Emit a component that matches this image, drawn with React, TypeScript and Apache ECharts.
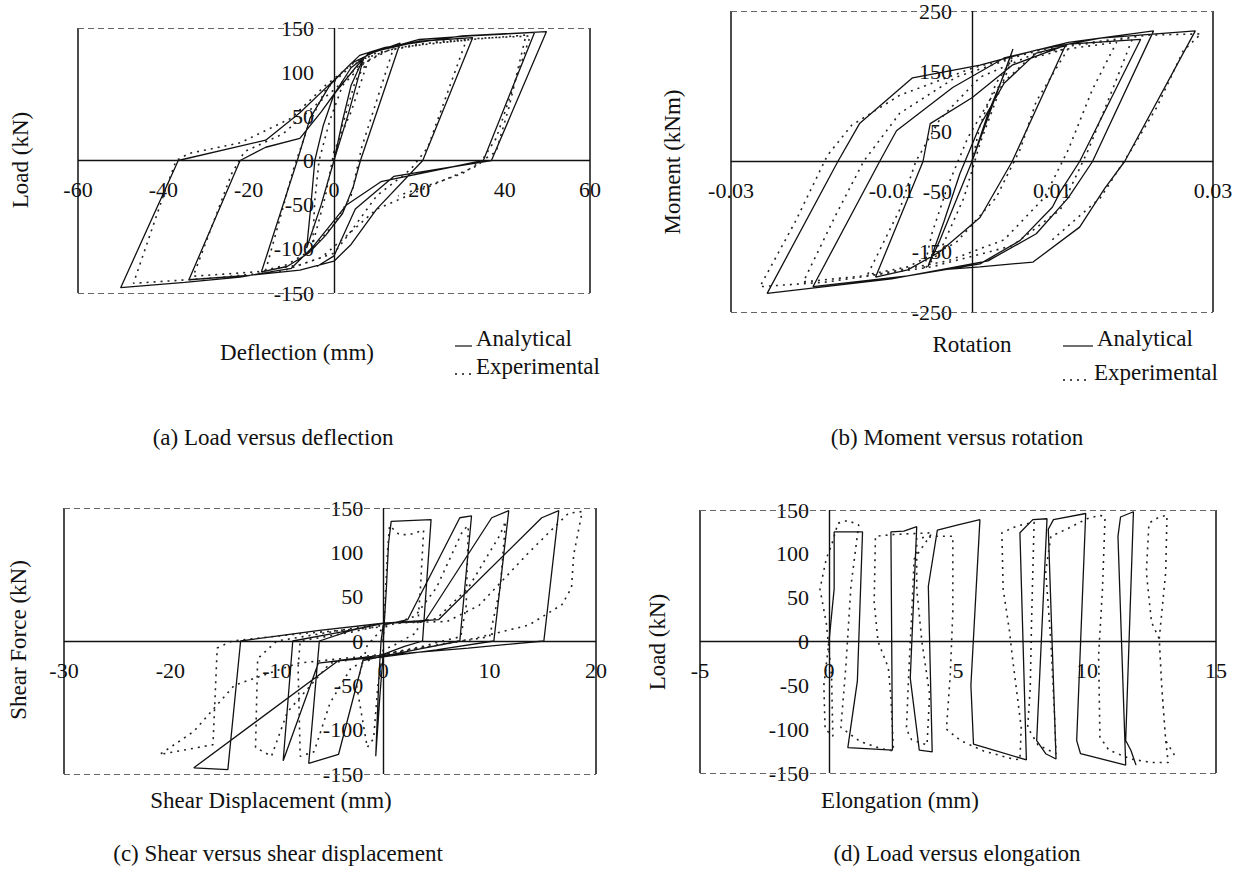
import React, { useEffect, useRef } from "react";
import * as echarts from "echarts";

const FONT = "'Liberation Serif', 'Times New Roman', Times, serif";

// ---------- Panel (a) Load versus deflection ----------
const A_X_RANGE = [-60, 60];
const A_X_STEP = 20;
const A_Y_RANGE = [-150, 150];
const A_Y_STEP = 50;
const A_ANALYTICAL = [
  [0, 0], [2, 45], [4, 85], [7, 117],
  [3.5, 55], [0, 0], [-3, -50], [-6.4, -99],
  [-5.4, -50], [-4.5, 0], [-2.5, 40], [0, 75], [4, 105], [8, 120], [15.5, 133],
  [6.2, 0], [4.5, -30], [2, -60], [-2, -85], [-6, -105], [-11, -120], [-17, -126],
  [-8.6, 0], [-5.6, 48], [-1, 85], [4, 110], [10, 124], [20, 135], [32.5, 139],
  [20.8, 0], [10, -55], [4, -95], [0, -114], [-8, -124], [-20, -130], [-34, -135],
  [-22, 0], [-16, 15], [-8, 25], [-3, 55], [0, 75], [5, 105], [8, 121], [20, 137], [32, 141], [47, 145],
  [35, 0], [11, -24], [3, -50], [0, -68], [-5, -98], [-10, -122], [-22, -132], [-35, -138], [-50, -144],
  [-36.5, 0], [-16, 23], [-8, 54], [0, 91], [6, 119], [12, 128], [30, 141], [49.8, 146],
  [36.9, 0], [14, -18], [5, -55], [0, -108], [-4, -120],
];
const A_EXPERIMENTAL = [
  [0, 0], [2, 40], [5, 90], [8, 113],
  [4, 55], [0, 10], [-2, -40], [-5, -95],
  [-4.5, -45], [-3.5, 0], [-1, 45], [2, 85], [7, 110], [14, 128],
  [6.5, 15], [4, -40], [0, -72], [-5, -100], [-11, -118], [-16, -124],
  [-9.5, -10], [-6, 40], [-2, 80], [4, 107], [10, 122], [20, 132], [31, 136],
  [22, 15], [18, -10], [10, -40], [4, -80], [0, -105], [-8, -118], [-18, -126], [-33, -131],
  [-24, -15], [-21, 10], [-12, 30], [-5, 60], [0, 80], [6, 108], [12, 124], [25, 135], [33, 138], [46, 141],
  [38, 25], [34, -5], [22, -30], [10, -55], [3, -85], [-3, -110], [-12, -125], [-28, -133], [-47, -139],
  [-40, -40], [-37, 0], [-34, 8], [-22, 20], [-10, 48], [-2, 85], [5, 112], [15, 128], [32, 137], [45, 142],
  [41, 60], [38, 10], [30, -15], [15, -40],
];

// ---------- Panel (b) Moment versus rotation ----------
const B_X_RANGE = [-0.03, 0.03];
const B_X_STEP = 0.02;
const B_Y_RANGE = [-250, 250];
const B_Y_STEP = 100;
const B_ANALYTICAL = [
  [0, 0], [0.002, 80], [0.004, 145], [0.0051, 187],
  [0.003, 110], [0, 0], [-0.004, -131], [-0.0055, -175],
  [-0.0035, -100], [-0.0015, -20], [0.001, 60], [0.004, 130], [0.008, 180], [0.0116, 192],
  [0.005, 0], [0.001, -93], [-0.004, -150], [-0.008, -180], [-0.012, -192],
  [-0.0061, 0], [-0.0052, 63], [0, 106], [0.005, 160], [0.012, 195], [0.021, 203],
  [0.0134, 0], [0.011, -50], [0.01, -76], [0.006, -131], [0.001, -170], [-0.008, -190], [-0.0198, -208],
  [-0.0115, 0], [-0.0094, 51], [-0.0024, 123], [0.004, 172], [0.012, 198], [0.0226, 217],
  [0.015, 0], [0.012, -60], [0.008, -120], [0.002, -165], [-0.01, -195], [-0.0255, -219],
  [-0.0167, 0], [-0.014, 63], [-0.0074, 139], [0.001, 160], [0.008, 185], [0.016, 205], [0.0278, 217],
  [0.019, 0], [0.0165, -45], [0.0134, -109], [0.0076, -167], [0.001, -175], [-0.004, -180],
];
const B_EXPERIMENTAL = [
  [0, 0], [0.001, 60], [0.003, 130], [0.005, 170],
  [0.0035, 120], [0.001, 30], [-0.001, -60], [-0.004, -150], [-0.006, -180],
  [-0.005, -120], [-0.003, -40], [-0.0005, 40], [0.003, 120], [0.007, 170], [0.012, 188],
  [0.008, 100], [0.006, 20], [0.003, -60], [-0.002, -135], [-0.008, -175], [-0.013, -188],
  [-0.009, -80], [-0.007, 0], [-0.004, 70], [0.001, 140], [0.008, 180], [0.018, 198],
  [0.015, 120], [0.012, 20], [0.009, -60], [0.004, -130], [-0.003, -165], [-0.012, -188], [-0.021, -200],
  [-0.017, -90], [-0.0135, 0], [-0.009, 80], [-0.002, 140], [0.008, 185], [0.02, 205],
  [0.0175, 120], [0.0145, 20], [0.011, -80], [0.005, -140], [-0.005, -175], [-0.018, -200], [-0.0264, -208],
  [-0.022, -100], [-0.018, 10], [-0.015, 60], [-0.009, 110], [0, 155], [0.01, 190], [0.022, 210], [0.0285, 212],
  [0.0263, 184], [0.023, 90], [0.02, 23], [0.016, -60], [0.01, -130],
];

// ---------- Panel (c) Shear versus shear displacement ----------
const C_X_RANGE = [-30, 20];
const C_X_STEP = 10;
const C_Y_RANGE = [-150, 150];
const C_Y_STEP = 50;
const C_ANALYTICAL = [
  [0, 0], [0.3, 60], [0.5, 110], [0.75, 135], [4.5, 137], [3.7, 0],
  [2, -6], [0, -15], [-0.3, -60], [-0.7, -130],
  [-0.4, -40], [-0.2, 0], [0, 18], [2.3, 24], [7.2, 139], [8.3, 141], [7.2, 0],
  [3, -10], [0, -17], [-1.9, -22], [-4.2, -128], [-7, -138], [-6, 0],
  [-3, 12], [0, 20], [3.9, 22], [10.2, 139], [11.8, 147], [10.4, 0],
  [5, -10], [0, -18], [-4, -22], [-6.1, -25], [-9.4, -135], [-8.5, 0],
  [-4, 10], [0, 20], [5.2, 24], [14.9, 139], [16.5, 147], [15.1, 0],
  [8, -8], [0, -16], [-4.2, -22], [-17.8, -143], [-14.6, -145], [-13.4, 0],
  [-6, 12], [0, 20],
];
const C_EXPERIMENTAL = [
  [0, 0], [0.2, 50], [0.4, 100], [0.6, 130], [1.5, 120], [2.5, 120], [3.8, 125],
  [3.5, 60], [3.2, 10], [1, -5], [0, -10], [-0.5, -50], [-0.9, -110], [-1.5, -120], [-2.5, -50], [-1.5, -5],
  [0, 15], [3, 28], [5, 60], [7.5, 125], [8, 130], [7.8, 40], [7.3, 5],
  [3, -8], [0, -15], [-3, -30], [-5, -70], [-6.5, -125], [-7.8, -130], [-8, -30], [-7.8, 0],
  [-3, 10], [0, 18], [5, 25], [8, 60], [11, 120], [11.5, 135], [11, 60], [10, 5],
  [5, -5], [0, -15], [-5, -25], [-9, -80], [-10.5, -130], [-12, -120], [-11.8, -20], [-10, 0],
  [-5, 10], [0, 20], [6, 22], [9, 40], [13.7, 100], [17.4, 144], [18.7, 146], [17.9, 97], [17.7, 60],
  [16.8, 41], [13.7, 18], [8.6, 3], [0, -15],
  [-8, -25], [-14, -50], [-17.8, -102], [-21, -128],
  [-16, -117], [-15.6, -8], [-14.2, 0], [-8, 8], [0, 16],
];

// ---------- Panel (d) Load versus elongation ----------
const D_X_RANGE = [-5, 15];
const D_X_STEP = 5;
const D_Y_RANGE = [-150, 150];
const D_Y_STEP = 50;
const D_ANALYTICAL = [
  [0, 0], [0.2, 60], [0.2, 125], [1.3, 125], [1.1, -45], [0.73, -121], [2.46, -124],
  [2.4, 125], [2.9, 126], [3.4, 131], [3.15, -42], [3.5, -124], [4.0, -126],
  [3.85, 63], [4.2, 127], [5.0, 133], [5.85, 139], [5.5, -50], [5.6, -117], [7.65, -135],
  [7.4, 124], [7.9, 139], [8.45, 140], [8.05, -113], [8.4, -128], [8.8, -134],
  [8.5, 128], [8.7, 139], [9.95, 146], [9.6, -113], [9.75, -128], [11.5, -141],
  [11.2, 120], [11.3, 142], [11.8, 148], [11.5, -113], [11.7, -124], [11.9, -141],
];
const D_EXPERIMENTAL = [
  [0, 0], [-0.2, -50], [-0.15, -100], [0.15, -108], [0.1, -40], [-0.1, 20], [-0.35, 60], [-0.1, 95], [0.1, 110],
  [0.35, 135], [0.73, 138], [1.15, 133], [0.85, 63], [0.65, -30], [0.46, -98], [1.2, -114], [2.0, -122], [2.5, -125],
  [2.4, -64], [2.3, -30], [1.9, 0], [1.75, 45], [1.8, 120], [2.5, 122], [3.2, 123], [4.0, 124],
  [3.3, 94], [3.2, 27], [3.1, -30], [3.0, -100], [3.2, -112], [3.8, -118],
  [3.9, -60], [3.6, 0], [3.4, 60], [3.4, 118], [4.2, 120], [4.8, 120], [4.8, 34], [4.7, -38], [4.55, -100],
  [5.1, -113], [6.0, -125], [7.0, -133], [7.4, -135],
  [7.45, -98], [7.1, -16], [7.0, 11], [6.75, 60], [6.7, 124], [7.3, 132], [7.95, 136], [7.85, 22], [7.8, -53],
  [7.7, -98], [8.1, -118], [8.8, -128], [8.75, -90], [8.6, 0], [8.4, 80], [8.6, 120], [9.2, 128], [10.0, 140],
  [10.5, 144], [10.7, 142], [10.6, 60], [10.45, -16], [10.5, -109], [10.85, -124], [11.7, -134], [12.5, -138],
  [13.15, -138], [13.05, -113], [12.9, -53], [12.8, 3], [12.5, 22], [12.3, 79], [12.4, 135], [12.8, 142],
  [13.1, 144], [13.05, 79], [12.8, 3], [12.9, -53], [13.05, -113], [13.4, -130],
];

const LEGEND_NAMES = ["Analytical", "Experimental"];

const GRIDS = [
  { left: 78, top: 28, width: 512, height: 265 },
  { left: 731, top: 10, width: 482, height: 302 },
  { left: 64, top: 508, width: 532, height: 266 },
  { left: 700, top: 510, width: 516, height: 263 },
];

const PANELS = [
  { xr: A_X_RANGE, xs: A_X_STEP, yr: A_Y_RANGE, ys: A_Y_STEP, an: A_ANALYTICAL, ex: A_EXPERIMENTAL, fx: (v: number) => String(Math.round(v)) },
  { xr: B_X_RANGE, xs: B_X_STEP, yr: B_Y_RANGE, ys: B_Y_STEP, an: B_ANALYTICAL, ex: B_EXPERIMENTAL, fx: (v: number) => v.toFixed(2) },
  { xr: C_X_RANGE, xs: C_X_STEP, yr: C_Y_RANGE, ys: C_Y_STEP, an: C_ANALYTICAL, ex: C_EXPERIMENTAL, fx: (v: number) => String(Math.round(v)) },
  { xr: D_X_RANGE, xs: D_X_STEP, yr: D_Y_RANGE, ys: D_Y_STEP, an: D_ANALYTICAL, ex: D_EXPERIMENTAL, fx: (v: number) => String(Math.round(v)) },
];

const SOLID = { color: "#111", width: 1.5, type: "solid" };
const ZERO = { color: "#111", width: 1.4, type: "solid" };
const DASHED = { color: "#666", width: 1, type: [6, 4] };

function txt(text: string, x: number, y: number, size: number, rotate = false) {
  return {
    type: "text",
    x,
    y,
    rotation: rotate ? Math.PI / 2 : 0,
    style: {
      text,
      font: `${size}px ${FONT}`,
      fill: "#111",
      textAlign: "center",
      textVerticalAlign: "middle",
    },
    silent: true,
  };
}

function legendItem(x: number, y: number, dashed: boolean, label: string, len: number) {
  return [
    {
      type: "line",
      shape: { x1: x, y1: y + 8, x2: x + len, y2: y + 8 },
      style: { stroke: "#111", lineWidth: dashed ? 1.6 : 1.2, lineDash: dashed ? [2, 5] : null },
      silent: true,
    },
    {
      type: "text",
      x: x + len + 4,
      y,
      style: { text: label, font: `23px ${FONT}`, fill: "#111", textAlign: "left", textVerticalAlign: "middle" },
      silent: true,
    },
  ];
}

export default function App() {
  const ref = useRef<HTMLDivElement>(null);
  useEffect(() => {
    if (!ref.current) return;
    const chart = echarts.init(ref.current, null, { renderer: "svg" });
    const xAxis: any[] = [];
    const yAxis: any[] = [];
    const series: any[] = [];
    PANELS.forEach((p, i) => {
      const g = GRIDS[i];
      // place the label rows on the zero lines (axes cross at the origin)
      const xOffset = -g.height * (0 - p.yr[0]) / (p.yr[1] - p.yr[0]);
      const yOffset = -g.width * (0 - p.xr[0]) / (p.xr[1] - p.xr[0]);
      xAxis.push({
        gridIndex: i,
        type: "value",
        position: "bottom",
        offset: xOffset,
        min: p.xr[0],
        max: p.xr[1],
        interval: p.xs,
        axisLine: { show: false, onZero: false },
        axisTick: { show: false },
        splitLine: { show: false },
        axisLabel: { fontFamily: FONT, fontSize: 22, color: "#111", margin: 18, formatter: p.fx, showMinLabel: true, showMaxLabel: true },
      });
      yAxis.push({
        gridIndex: i,
        type: "value",
        position: "left",
        offset: yOffset,
        min: p.yr[0],
        max: p.yr[1],
        interval: p.ys,
        axisLine: { show: false, onZero: false },
        axisTick: { show: false },
        splitLine: { show: false },
        axisLabel: { fontFamily: FONT, fontSize: 22, color: "#111", margin: 20, showMinLabel: true, showMaxLabel: true },
      });
      series.push({
        name: LEGEND_NAMES[0],
        type: "line",
        xAxisIndex: i,
        yAxisIndex: i,
        data: p.an,
        showSymbol: false,
        symbol: "none",
        lineStyle: { color: "#111", width: 1.3, type: "solid" },
        emphasis: { disabled: true },
        markLine: {
          silent: true,
          symbol: ["none", "none"],
          label: { show: false },
          data: [
            { xAxis: p.xr[0], lineStyle: SOLID },
            { xAxis: p.xr[1], lineStyle: SOLID },
            { yAxis: p.yr[1], lineStyle: DASHED },
            { yAxis: p.yr[0], lineStyle: DASHED },
            { xAxis: 0, lineStyle: ZERO },
            { yAxis: 0, lineStyle: ZERO },
          ],
        },
      });
      series.push({
        name: LEGEND_NAMES[1],
        type: "line",
        xAxisIndex: i,
        yAxisIndex: i,
        data: p.ex,
        showSymbol: false,
        symbol: "none",
        lineStyle: { color: "#222", width: 1.6, type: [2, 5] },
        emphasis: { disabled: true },
      });
    });

    const graphic: any[] = [
      txt("Load (kN)", 20, 160, 23, true),
      txt("Deflection (mm)", 297, 352, 23),
      txt("(a) Load versus deflection", 273, 437, 23),
      txt("Moment (kNm)", 672, 162, 23, true),
      txt("Rotation", 972, 344, 23),
      txt("(b) Moment versus rotation", 957, 437, 23),
      txt("Shear Force (kN)", 18, 640, 23, true),
      txt("Shear Displacement (mm)", 271, 800, 23),
      txt("(c) Shear versus shear displacement", 278, 853, 23),
      txt("Load (kN)", 657, 642, 23, true),
      txt("Elongation (mm)", 900, 800, 23),
      txt("(d) Load versus elongation", 957, 853, 23),
      ...legendItem(455, 338, false, LEGEND_NAMES[0], 17),
      ...legendItem(455, 366, true, LEGEND_NAMES[1], 17),
      ...legendItem(1063, 338, false, LEGEND_NAMES[0], 30),
      ...legendItem(1063, 372, true, LEGEND_NAMES[1], 27),
    ];

    chart.setOption({
      animation: false,
      backgroundColor: "#fff",
      grid: GRIDS.map((g) => ({ ...g, containLabel: false })),
      xAxis,
      yAxis,
      series,
      graphic,
    });
    return () => chart.dispose();
  }, []);
  return (
    <div
      ref={ref}
      style={{ position: "absolute", left: 0, top: 0, width: 1241, height: 878, background: "#fff" }}
    />
  );
}
